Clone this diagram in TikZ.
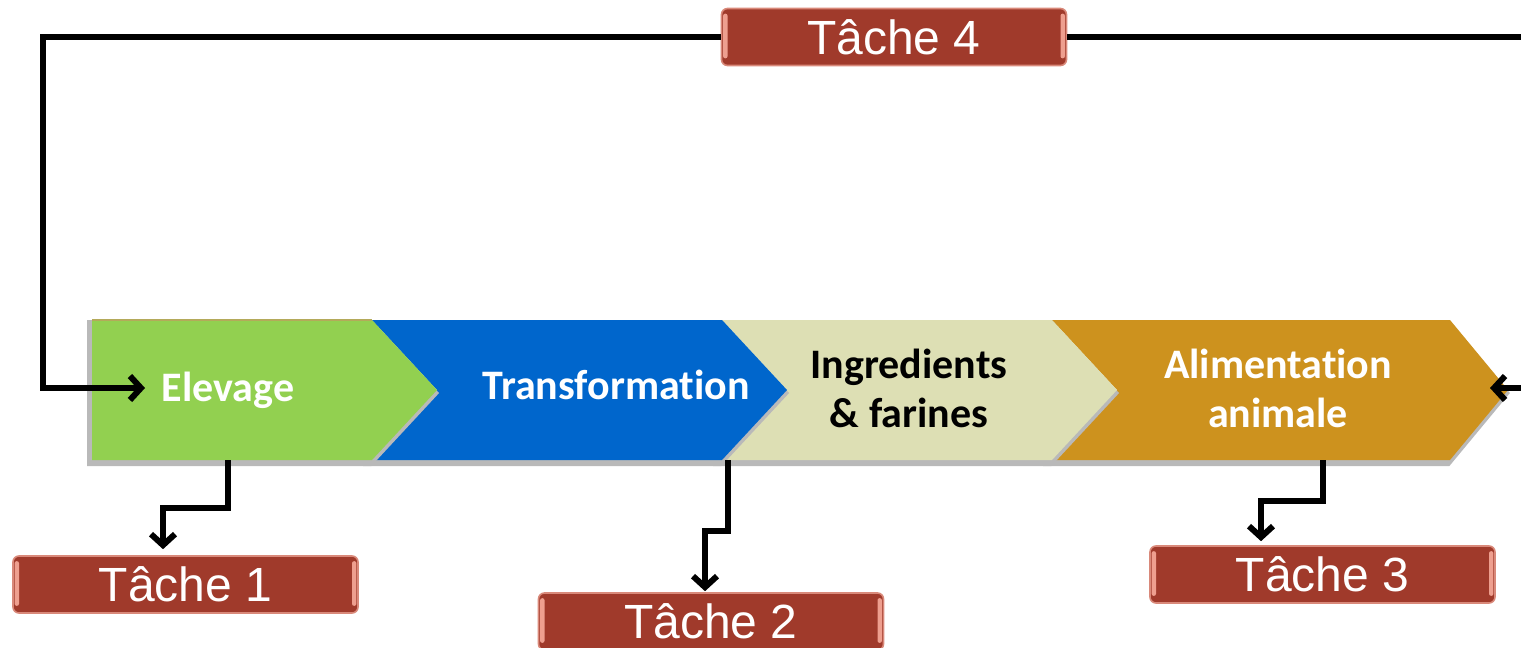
\documentclass[tikz,border=0pt]{standalone}
\usepackage{fontspec}
\setmainfont{Liberation Sans}
\newfontfamily\calib[Ligatures=NoCommon]{Carlito}
\usetikzlibrary{arrows.meta}
\definecolor{cgreen}{HTML}{92D050}
\definecolor{cblue}{HTML}{0066CC}
\definecolor{cbeige}{HTML}{DDDFB4}
\definecolor{corange}{HTML}{CD921E}
\definecolor{tred}{HTML}{A03A2B}
\definecolor{tedge}{HTML}{D9897A}
\definecolor{tlight}{HTML}{EE9F8F}
\begin{document}
\begin{tikzpicture}[x=0.5pt,y=-0.5pt,
  tache/.style={draw=tedge, line width=0.8pt, fill=tred, rounded corners=3pt,
    minimum width=172.5pt, minimum height=28.5pt, inner sep=0pt, text=white,
    font=\fontsize{24}{28}\selectfont},
  stagelbl/.style={font=\calib\bfseries\fontsize{21}{24.5}\selectfont, align=center},
  conn/.style={line width=3pt, -{Straight Barb[length=5.5pt,width=12pt,line width=3pt]}},
  shad/.style={draw=gray!55, line width=3pt, line join=miter}]
\clip (0,0) rectangle (1521,648);
\useasboundingbox (0,0) rectangle (1521,648);
% chevrons (right to left so tips overlap)
\draw[shad] (1050,323) -- (1448,323) -- (1506,393) -- (1448,463) -- (1050,463) -- (1115,393) -- cycle;
\fill[corange] (1052,320) -- (1450,320) -- (1508,390) -- (1450,460) -- (1052,460) -- (1117,390) -- cycle;
\draw[shad] (720,323) -- (1050,323) -- (1115,393) -- (1050,463) -- (720,463) -- (785,393) -- cycle;
\fill[cbeige] (722,320) -- (1052,320) -- (1117,390) -- (1052,460) -- (722,460) -- (787,390) -- cycle;
\draw[shad] (370,323) -- (720,323) -- (785,393) -- (720,463) -- (370,463) -- (435,393) -- cycle;
\fill[cblue] (372,320) -- (722,320) -- (787,390) -- (722,460) -- (372,460) -- (437,390) -- cycle;
\draw[shad] (90,323) -- (370,323) -- (435,393) -- (370,463) -- (90,463) -- cycle;
\fill[cgreen] (92,320) -- (372,320) -- (437,390) -- (372,460) -- (92,460) -- cycle;
\draw[draw={rgb,255:red,180;green,170;blue,90}, line width=0.6pt] (92,320) -- (372,320);
% stage labels
\node[stagelbl, text=white] (elev) at (228,390) {Elevage};
\node[stagelbl, text=white] (transf) at (616,385) {Transformation};
\node[stagelbl, text=black] (ingr) at (909,388) {Ingredients\\\& farines};
\node[stagelbl, text=white] (alim) at (1278,388) {Alimentation\\animale};
% connection points on the chevrons
\coordinate (elevIn) at (145,388);
\coordinate (alimIn) at (1490,388);
\coordinate (gbot) at (228,460);
\coordinate (bbot) at (728,460);
\coordinate (obot) at (1323,460);
% task boxes
\node[tache] (t4) at (894,37) {Tâche 4};
\node[tache] (t1) at (185.5,584.5) {Tâche 1};
\node[tache] (t2) at (711,621.5) {Tâche 2};
\node[tache] (t3) at (1322.5,574.5) {Tâche 3};
\foreach \t in {t1,t2,t3,t4}{
  \fill[tlight, rounded corners=1pt] ([xshift=1.2pt,yshift=-3pt]\t.north west) rectangle ([xshift=3.4pt,yshift=4pt]\t.south west);
  \fill[tlight, rounded corners=1pt] ([xshift=-1.2pt,yshift=-3pt]\t.north east) rectangle ([xshift=-3.4pt,yshift=4pt]\t.south east);
}
% connectors
\draw[conn] (t4.west) -| (43,388) -- (elevIn);
\draw[conn] (t4.east) -- (1545,37) -- (1545,388) -- (alimIn);
\draw[conn, shorten >=3pt] (gbot) -- (228,508) -| ([xshift=-11.25pt]t1.north);
\draw[conn, shorten >=0.5pt] (bbot) -- (728,531) -| ([xshift=-3pt]t2.north);
\draw[conn, shorten >=2pt] (obot) -- (1323,501) -| ([xshift=-30.75pt]t3.north);
\end{tikzpicture}
\end{document}
